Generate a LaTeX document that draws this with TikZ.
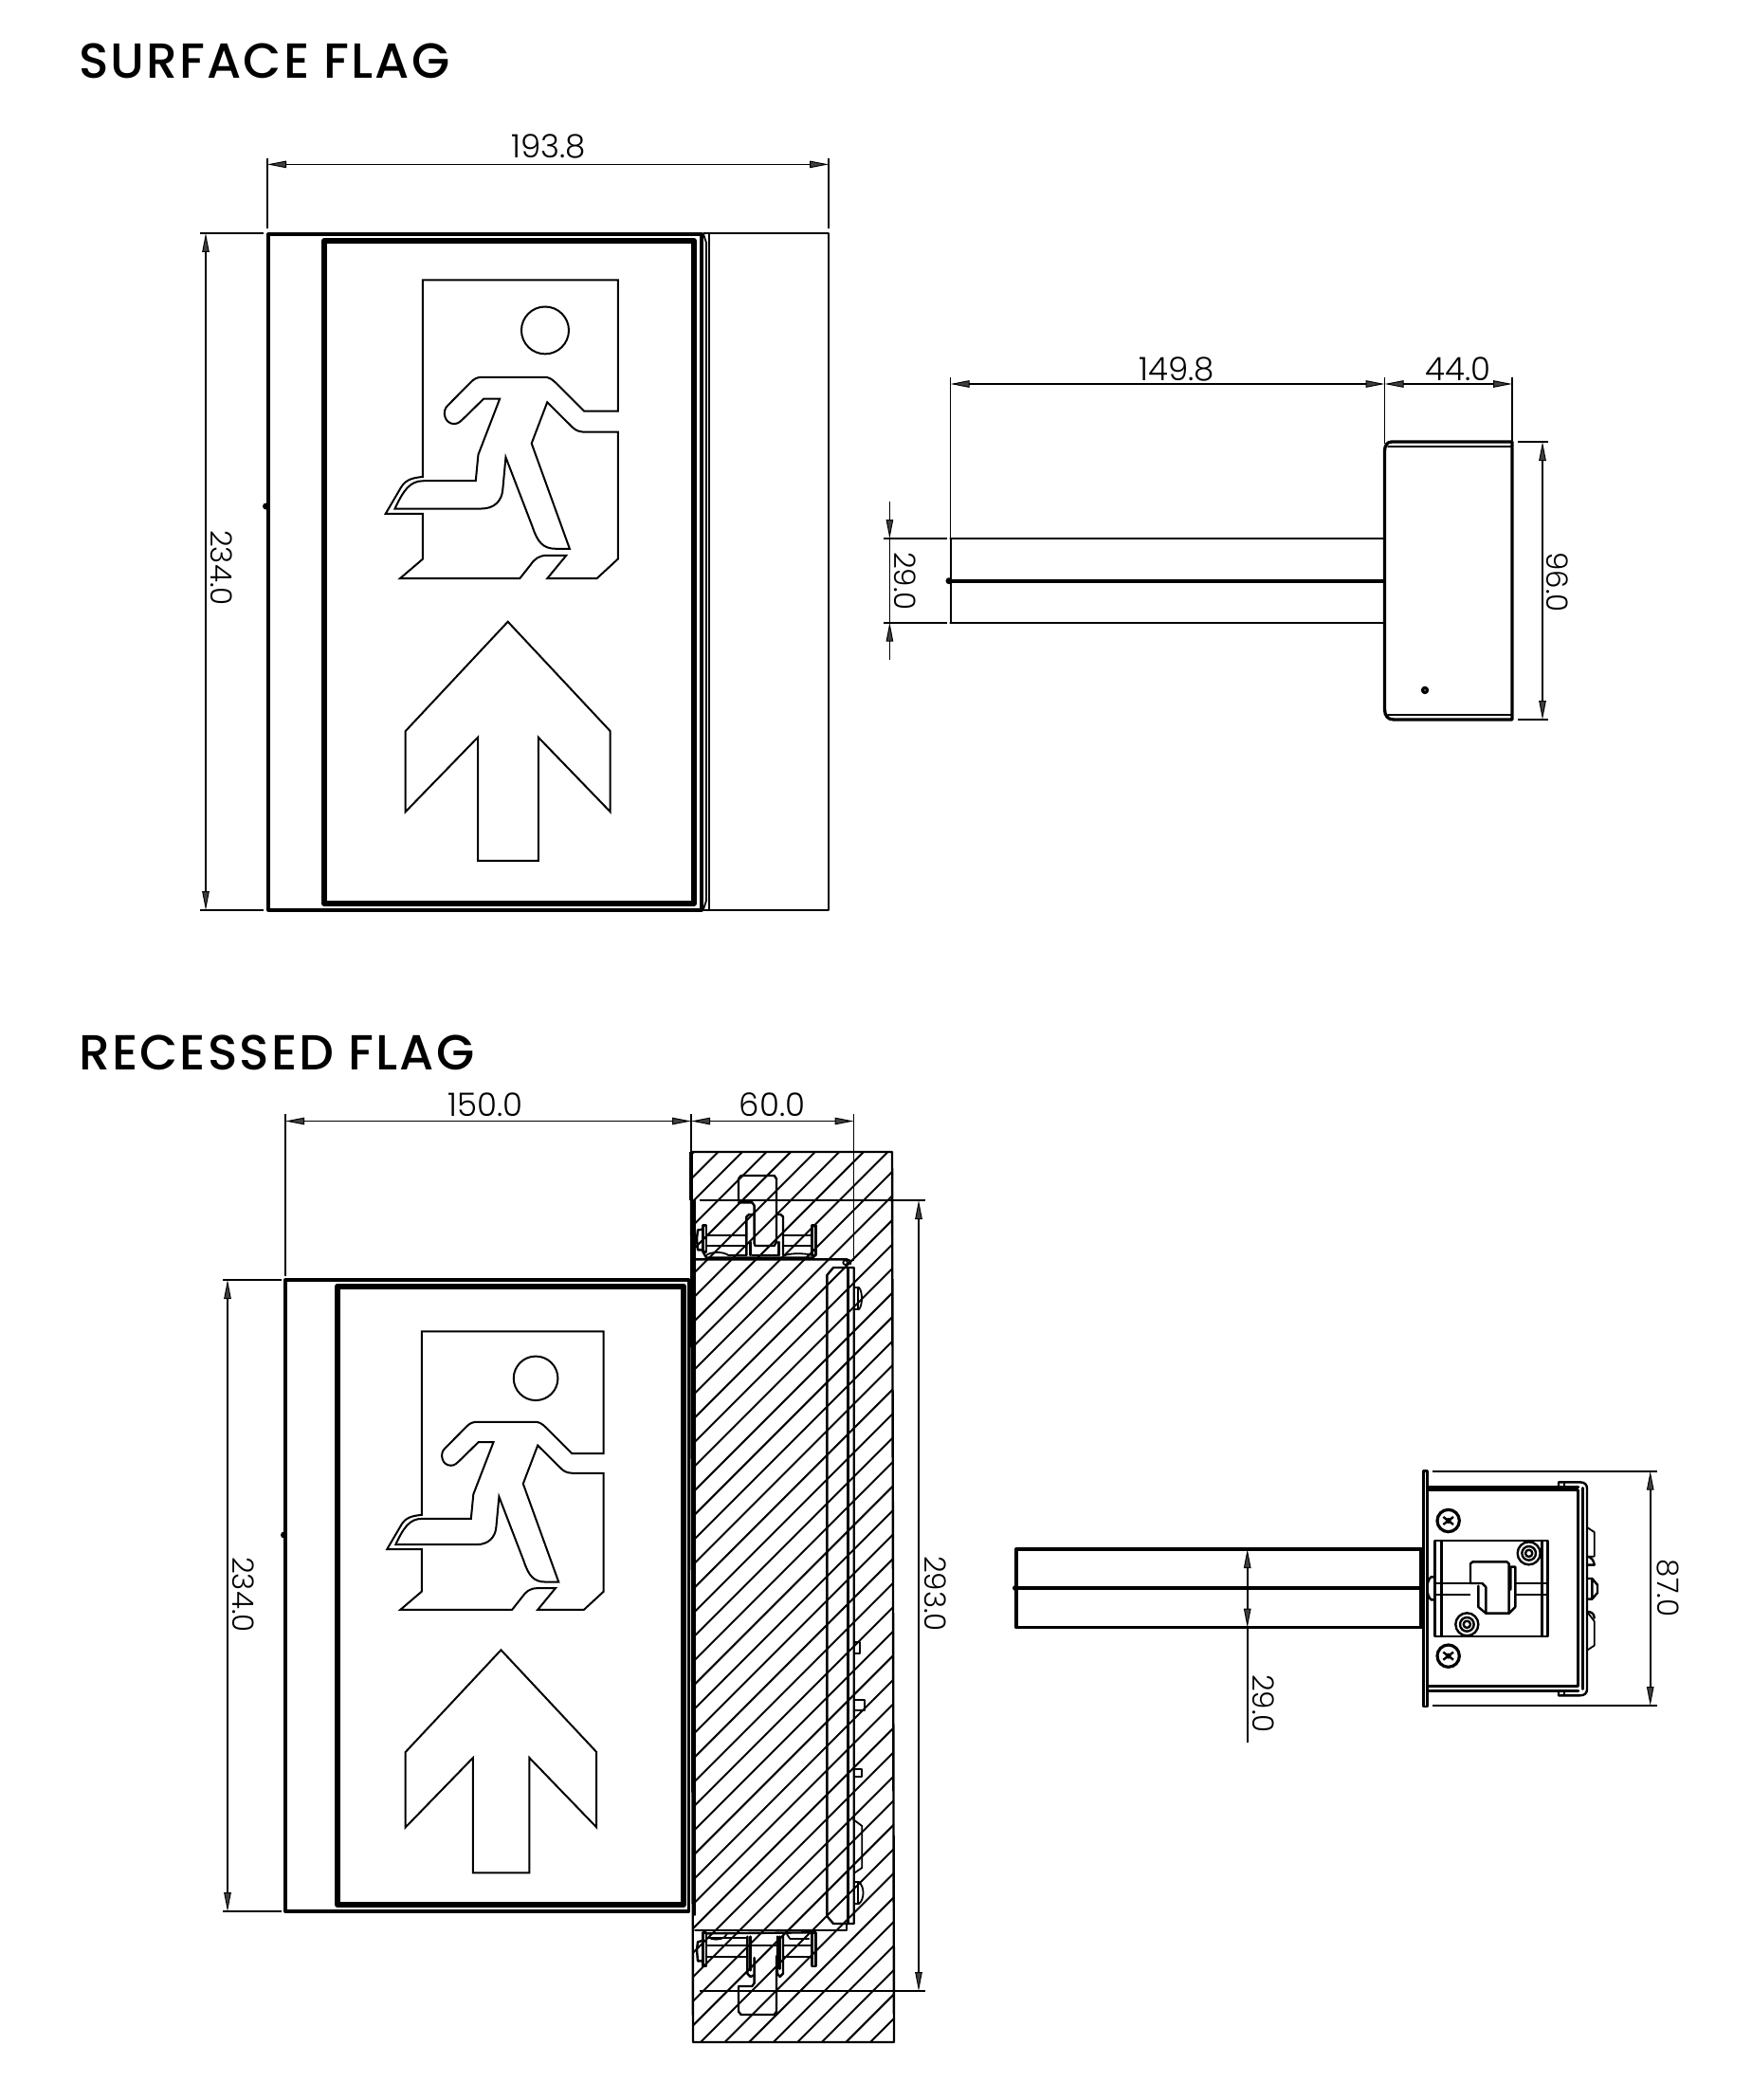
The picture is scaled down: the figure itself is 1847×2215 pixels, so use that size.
\documentclass[tikz,border=0pt]{standalone}
\usepackage{fontspec}
\usetikzlibrary{arrows.meta}
\newfontfamily\dimfont{Poppins Light}
\newfontfamily\titlefont[LetterSpace=4]{Poppins Medium}
\tikzset{
  thinln/.style={line width=1.8pt,line join=round,line cap=round},
  fitln/.style={line width=2.4pt,line join=round,line cap=round},
  midln/.style={line width=3.3pt,line join=round,line cap=round},
  frameln/.style={line width=6pt,line join=round},
  dimln/.style={line width=1.7pt},
  darr/.tip={Triangle[length=20pt,width=7.5pt,fill=black!75,line width=1pt]},
  dimarr/.style={line width=1.7pt,darr-darr},
  dimone/.style={line width=1.7pt,-darr},
  dimtext/.style={inner sep=0pt,font=\dimfont\fontsize{34}{34}\selectfont},
  dimrot/.style={inner sep=0pt,rotate=-90,font=\dimfont\fontsize{31}{31}\selectfont},
  titletext/.style={inner sep=0pt,anchor=west,font=\titlefont\fontsize{52}{52}\selectfont},
  hatchln/.style={line width=2pt},
  signln/.style={line width=2pt,line join=miter},
}
\newcommand{\signshape}{%
  \draw[signln] (551,688) -- (551,305) -- (1012,305) -- (1012,560) -- (932,560) -- (865,505)
    .. controls (855,497) and (848,494) .. (838,494) -- (692,494)
    .. controls (680,494) and (672,497) .. (663,505) -- (609,550)
    .. controls (596,560) and (602,585) .. (625,585)
    .. controls (635,585) and (640,580) .. (648,574) -- (695,536) -- (733,536) -- (682,645) -- (676,696) -- (552,696)
    .. controls (520,696) and (505,715) .. (485,750) -- (690,750)
    .. controls (720,750) and (738,735) .. (740,712) -- (747,650) -- (810,785)
    .. controls (822,815) and (835,828) .. (865,828) -- (898,828) -- (808,623) -- (845,543) -- (905,592)
    .. controls (915,600) and (925,601) .. (940,601) -- (1012,601) -- (1012,848) -- (962,886) -- (845,886) -- (890,841) -- (845,841)
    .. controls (825,841) and (815,848) .. (805,860) -- (780,886) -- (497,886) -- (551,848) -- (551,760) -- (463,760) -- (500,708)
    .. controls (512,692) and (530,690) .. (551,688) -- cycle;
  \draw[signln] (840,403) ellipse [x radius=56,y radius=46];
  \draw[signln] (752,970) -- (994,1183) -- (994,1340) -- (824,1195) -- (824,1435) -- (681,1435) -- (681,1195) -- (510,1340) -- (510,1183) -- cycle;
}
\begin{document}
\begin{tikzpicture}[x=1pt,y=-1pt]
\useasboundingbox (0,0) rectangle (1847,2215);
\fill[white] (0,0) rectangle (1847,2215);

% ---- titles
\node[titletext] (t1) at (83,64.5) {SURFACE FLAG};
\node[titletext] (t2) at (83,1110) {RECESSED FLAG};

% ---- surface flag, front
\draw[midln] (283,247) rectangle (740,960);
\draw[frameln] (342,254) rectangle (732,953);
\draw[thinln] (742,246) -- (874,246) -- (874,960) -- (742,960);
\draw[thinln] (748,246) -- (748,960);
\draw[thinln] (742,247) -- (745,256) -- (745,950) -- (742,959);
\fill (280.5,534) circle (3.5);
\begin{scope}[shift={(200,130)},x=0.4464pt,y=-0.542pt]
\signshape
\end{scope}
% dims
\coordinate (a1) at (282,173.4); \coordinate (a2) at (874,173.4);
\draw[dimln] (282,167) -- (282,241) (874,167) -- (874,241);
\draw[dimarr] (a1) -- (a2);
\node[dimtext] (d1) at (578.6,154) {193.8};
\coordinate (b1) at (217,246); \coordinate (b2) at (217,960);
\draw[dimln] (211,246) -- (278,246) (211,960) -- (278,960);
\draw[dimarr] (b1) -- (b2);
\node[dimrot] (d2) at (233.5,599) {234.0};

% ---- surface flag, side
\draw[fitln] (1002.5,568) -- (1460.5,568) (1002.5,656.7) -- (1460.5,656.7);
\draw[fitln] (1003,568) -- (1003,656.7);
\draw[line width=3.6pt] (1002,612.7) -- (1460.5,612.7);
\fill (1001,612.7) circle (3.5);
\draw[midln] (1595,466) -- (1468,466) .. controls (1463,466) and (1460.5,470) .. (1460.5,476) -- (1460.5,748) .. controls (1460.5,755) and (1464,759) .. (1470,759) -- (1595,759) -- cycle;
\draw[thinln] (1464,471) -- (1595,471) (1464,754) -- (1595,754);
\draw[midln] (1503,728) circle (2.5);
\coordinate (c1) at (1002.5,405); \coordinate (c2) at (1460.5,405); \coordinate (c3) at (1595,405);
\draw[dimln] (1002.5,398) -- (1002.5,567) (1460.5,398) -- (1460.5,468) (1595,398) -- (1595,466);
\draw[dimarr] (c1) -- (c2);
\draw[dimarr] (c2) -- (c3);
\node[dimtext] (d3) at (1241,389) {149.8};
\node[dimtext] (d4) at (1538,389) {44.0};
\coordinate (e1) at (1627,466); \coordinate (e2) at (1627,759);
\draw[dimln] (1601,466) -- (1632.5,466) (1601,759) -- (1632.5,759);
\draw[dimarr] (e1) -- (e2);
\node[dimrot] (d5) at (1643,614) {96.0};
\coordinate (f1) at (938.4,568); \coordinate (f2) at (938.4,656.7);
\coordinate (f0) at (938.4,529); \coordinate (f3) at (938.4,696);
\draw[dimln] (932,568) -- (998.5,568) (932,656.7) -- (998.5,656.7) (f1) -- (f2);
\draw[dimone] (f0) -- (f1);
\draw[dimone] (f3) -- (f2);
\node[dimrot] (d6) at (955,613) {29.0};

% ---- recessed flag, front
\draw[midln] (301,1350) rectangle (726.7,2016);
\draw[frameln] (356,1356.5) rectangle (721,2009);
\fill (299.5,1619) circle (3.5);
\begin{scope}[shift={(215.4,1250.1)},x=0.4163pt,y=-0.5054pt]
\signshape
\end{scope}
\coordinate (g1) at (301,1182.5); \coordinate (g2) at (729,1182.5); \coordinate (g3) at (900.5,1182.5);
\draw[dimln] (301,1175) -- (301,1346) (729,1175) -- (729,1215) (900.5,1175) -- (900.5,1330);
\draw[dimarr] (g1) -- (g2);
\draw[dimarr] (g2) -- (g3);
\node[dimtext] (d7) at (512,1165) {150.0};
\node[dimtext] (d8) at (814.5,1165) {60.0};
\coordinate (h1) at (240,1350); \coordinate (h2) at (240,2016);
\draw[dimln] (235,1350) -- (297,1350) (235,2016) -- (297,2016);
\draw[dimarr] (h1) -- (h2);
\node[dimrot] (d9) at (257,1682) {234.0};

% ---- wall box + hatch
\draw[fitln] (729,1215) -- (941,1215) -- (943,2154) -- (731,2154) -- cycle;
\draw[line width=3.4pt] (729,1215) -- (729,1266);
\draw[thinln] (733,1266) -- (733,2020) (731,1266) -- (731,2100);
\draw[fitln] (733,1328.3) -- (893,1328.3) .. controls (896,1328.3) and (897,1330) .. (897,1333);
\draw[thinln] (733,2036) -- (893,2036) -- (893,2030);
\draw[fitln] (872.3,1345) -- (872.3,2021) -- (879,2029) -- (900.7,2029) -- (900.7,1337) -- (879,1337) -- cycle;
\draw[fitln] (894.5,1337) -- (894.5,2029);
\draw[thinln] (900.7,1358) -- (906,1358) .. controls (910,1362) and (910,1377) .. (906,1381) -- (900.7,1381) (905,1358) -- (905,1381);
\draw[thinln] (900.7,1985) -- (906,1985) .. controls (912,1990) and (912,2003) .. (906,2008) -- (900.7,2008) (905,1985) -- (905,2008);
\draw[thinln] (900.7,1732) rectangle (907.3,1744);
\draw[thinln] (900.7,1793) rectangle (912.3,1804);
\draw[thinln] (900.7,1866) rectangle (909.3,1874);
\draw[thinln] (900,1919) -- (909.3,1926) -- (909.3,1970) -- (902,1975);
% top fitting
\begin{scope}[shift={(700,1200)},x=0.3333pt,y=-0.3333pt]
\draw[fitln] (237,198) -- (237,130) -- (245,120) -- (350,120) -- (357,130) -- (357,330);
\draw[fitln] (237,205) -- (280,205) -- (287,215) -- (287,335) -- (290,342) -- (350,342) -- (357,330);
\draw[fitln] (262,372) -- (262,250) -- (270,243) -- (285,243) (357,243) -- (370,243) -- (378,250) -- (378,372);
\draw[fitln] (275,330) -- (275,372) (365,330) -- (365,372);
\draw[thinln] (135,310) -- (262,310) (135,342) -- (262,342) (378,310) -- (470,310) (378,342) -- (470,342);
\draw[fitln] (125,278) rectangle (135,362);
\draw[fitln] (470,278) rectangle (481,372);
\draw[fitln] (125,290) -- (108,292) -- (105,320) -- (108,355) -- (125,355);
\draw[fitln] (125,362) -- (135,380) -- (470,380) -- (481,372);
\draw[thinln] (135,372) .. controls (150,360) and (190,360) .. (205,372) -- (262,372) (280,372) -- (365,372) (385,372) .. controls (400,365) and (450,365) .. (470,372);
\draw[thinln] (575,395) circle (7);
\end{scope}
% bottom fitting
\begin{scope}[shift={(700,1950)},x=0.3333pt,y=-0.3333pt]
\draw[fitln] (237,438) -- (237,515) -- (245,525) -- (350,525) -- (357,515) -- (357,340);
\draw[fitln] (237,435) -- (280,435) -- (287,425) -- (287,345);
\draw[fitln] (265,278) -- (265,395) -- (275,405) -- (285,400) (360,278) -- (360,395) -- (368,405) -- (378,395) -- (378,278);
\draw[fitln] (275,278) -- (275,385) (368,278) -- (368,380);
\draw[thinln] (135,305) -- (265,305) (135,342) -- (265,342) (275,305) -- (360,305) (378,305) -- (470,305) (378,342) -- (470,342);
\draw[fitln] (125,265) rectangle (135,372);
\draw[fitln] (470,265) rectangle (481,372);
\draw[fitln] (125,290) -- (108,295) -- (105,320) -- (108,355) -- (125,355);
\draw[fitln] (135,268) -- (470,265);
\draw[thinln] (135,282) -- (260,282) (150,285) .. controls (170,290) and (195,285) .. (200,270) (390,270) -- (400,285) -- (460,285);
\end{scope}
% hatch
\begin{scope}
\clip (729,1215) -- (941,1215) -- (943,2154) -- (731,2154) -- cycle;
\foreach \k in {-2,...,46}{
  \pgfmathsetmacro{\q}{1972.4+\k*25.57}
  \draw[hatchln] (700,\q-700) -- (960,\q-960);
}
\end{scope}
\coordinate (i1) at (969,1266); \coordinate (i2) at (969,2100);
\draw[dimln] (738,1266) -- (975.7,1266) (738,2100) -- (975.7,2100);
\draw[dimarr] (i1) -- (i2);
\node[dimrot] (d10) at (987,1681) {293.0};

% ---- recessed, rear view
\draw[midln] (1072,1634) rectangle (1499,1716.7);
\draw[midln] (1072,1675) -- (1499,1675);
\fill (1071,1675) circle (3);
\coordinate (j1) at (1315.7,1634); \coordinate (j2) at (1315.7,1716.7); \coordinate (j3) at (1315.7,1838);
\draw[dimln] (j2) -- (j3);
\draw[dimarr] (j1) -- (j2);
\node[dimrot] (d11) at (1333,1797) {29.0};
\coordinate (k1) at (1740.7,1551.7); \coordinate (k2) at (1740.7,1799);
\draw[dimln] (1510.7,1551.7) -- (1747.7,1551.7) (1510.7,1799) -- (1747.7,1799);
\draw[dimarr] (k1) -- (k2);
\node[dimrot] (d12) at (1759,1675) {87.0};
\begin{scope}[shift={(1480,1530)},x=0.3333pt,y=-0.3333pt]
\draw[fitln] (65,65) rectangle (77,810);
\draw[fitln] (77,115) -- (555,115) (77,125) -- (553,125) (77,745) -- (553,745) (77,760) -- (555,760);
\draw[fitln] (553,125) -- (553,745);
\draw[fitln] (568,118) -- (568,755);
\draw[fitln] (492,115) -- (492,100) -- (560,100) .. controls (575,100) and (582,108) .. (582,120) -- (582,755) .. controls (582,767) and (575,775) .. (560,775) -- (492,775) -- (492,760);
\draw[thinln] (510,100) -- (510,115) (510,760) -- (510,775);
\draw[thinln] (582,243) -- (605,258) -- (605,335) -- (582,335) (582,632) -- (605,617) -- (605,540) -- (582,510);
\draw[fitln] (582,335) .. controls (595,335) and (605,350) .. (605,362) -- (582,362);
\draw[fitln] (582,510) .. controls (595,510) and (605,515) .. (605,530);
\draw[fitln] (582,405) -- (598,405) -- (615,425) -- (615,450) -- (598,470) -- (582,470) (598,405) -- (598,470);
\draw[fitln] (100,285) rectangle (458,588);
\draw[fitln] (122,285) -- (122,588) (440,285) -- (440,588);
\draw[thinln] (103,420) -- (240,420) (103,455) -- (240,455) (355,420) -- (458,420) (355,455) -- (458,455);
\draw[fitln] (100,400) -- (88,400) .. controls (72,415) and (72,455) .. (88,472) -- (100,472);
\fill[white] (213,360) rectangle (335,510);
\draw[fitln] (213,420) -- (213,358) -- (220,352) -- (328,352) -- (335,358) -- (335,515) -- (262,515) -- (262,432) -- (250,420) -- (213,420);
\draw[fitln] (238,428) -- (238,495) -- (262,515);
\draw[fitln] (340,440) -- (340,368) -- (355,368) -- (355,495) -- (335,515);
\foreach \yy/\xx in {222/143,650/143}{
  \draw[line width=3.2pt] (\xx,\yy) circle (35);
  \draw[line width=2.4pt] (\xx-16,\yy-12) -- (\xx+16,\yy+12) (\xx-16,\yy+12) -- (\xx+16,\yy-12);
  \fill (\xx,\yy) circle (9);
}
\foreach \xx/\yy in {398/325,202/550}{
  \draw[fitln] (\xx,\yy) circle (36);
  \draw[fitln] (\xx,\yy) circle (22);
  \draw[fitln] (\xx,\yy) circle (11);
}
\end{scope}
\end{tikzpicture}
\end{document}
